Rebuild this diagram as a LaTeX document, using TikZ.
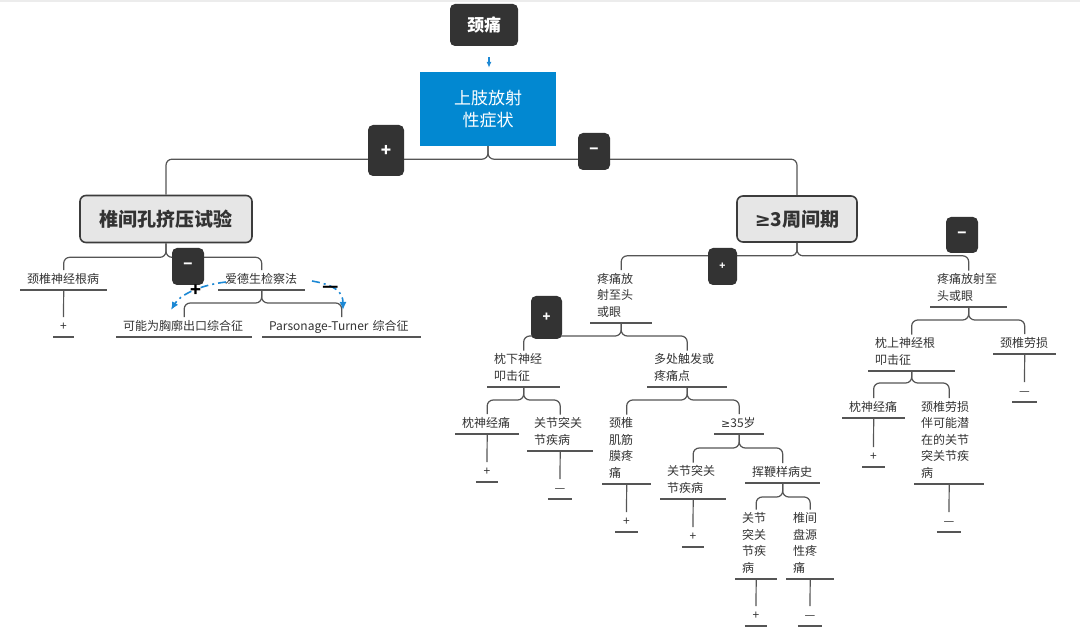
\documentclass[tikz,border=0pt]{standalone}
\usepackage{fontspec}
\setmainfont{Noto Sans CJK SC}
\newfontfamily\symfont{DejaVu Sans}
\usetikzlibrary{arrows.meta}
\definecolor{dk}{HTML}{333333}
\definecolor{bluebox}{HTML}{0288D1}
\definecolor{grayfill}{HTML}{E6E6E6}
\definecolor{grayborder}{HTML}{3C3C3C}
\definecolor{lc}{HTML}{555555}
\definecolor{txt}{HTML}{333333}
\definecolor{arrblue}{HTML}{1C88D4}
\definecolor{topbar}{HTML}{ECECEC}
\begin{document}
\begin{tikzpicture}[x=1pt,y=-1pt,
  conn/.style={draw=lc, line width=1.2pt, rounded corners=6pt},
  uline/.style={draw=lc, line width=1.2pt},
  lbl/.style={anchor=south west, text width=#1, align=left, inner xsep=7pt, inner ysep=1.5pt,
    font=\fontsize{12}{16.5}\selectfont, text=txt,
    execute at begin node=\strut, execute at end node=\strut},
  leaf/.style={anchor=south, minimum width=#1, inner xsep=0pt, inner ysep=1.5pt,
    font=\fontsize{12}{16.5}\selectfont, text=txt, execute at begin node=\strut},
  badge/.style={fill=dk, rounded corners=5pt, text=white, inner sep=0pt, font=\bfseries},
  graybox/.style={fill=grayfill, draw=grayborder, line width=1.6pt, rounded corners=6pt,
    text=txt, font=\fontsize{19}{22}\selectfont\bfseries, inner sep=0pt},
  bluedash/.style={draw=arrblue, line width=1.6pt, dash pattern=on 8pt off 4pt on 2pt off 4pt,
    -{Latex[length=8pt,width=7pt]}},
  marktxt/.style={text=black, font=\fontsize{18}{20}\selectfont\bfseries, inner sep=0pt}
]
\useasboundingbox (0,0) rectangle (1080,628);
\fill[topbar] (0,0) rectangle (1080,2.5);

% top nodes
\node[fill=dk, rounded corners=5pt, text=white, minimum width=68pt, minimum height=42pt, inner sep=0pt,
  font=\fontsize{17}{20}\selectfont\bfseries] (jt) at (484,25) {颈痛};
\node[fill=bluebox, text=white, minimum width=136pt, minimum height=74pt, inner sep=0pt, align=center,
  font=\fontsize{17}{22}\selectfont] (sx) at (488,109) {上肢放射\\性症状};
\node[graybox, minimum width=172pt, minimum height=47pt] (zj) at (166,219) {椎间孔挤压试验};
\node[graybox, minimum width=120pt, minimum height=46pt] (zq) at (797,219) {{\symfont ≥}3周间期};

% left labels
\node[lbl=73pt] (l1) at (20,290) {颈椎神经根病};
\node[lbl=73pt] (l2) at (218,290) {爱德生检察法};
\node[lbl=122pt] (l3) at (116,337) {可能为胸廓出口综合征};
\node[lbl=145pt] (l4) at (262,337) {\mbox{Parsonage-Turner} 综合征};

% right labels
\node[lbl=48pt] (r1) at (590,323) {疼痛放\\射至头\\或眼};
\node[lbl=63pt] (r2) at (930,307) {疼痛放射至\\头或眼};
\node[lbl=59pt] (r11) at (487,387) {枕下神经\\叩击征};
\node[lbl=66pt] (r12) at (647,387) {多处触发或\\疼痛点};
\node[lbl=50pt] (r111) at (455,434) {枕神经痛};
\node[lbl=52pt] (r112) at (527,451) {关节突关\\节疾病};
\node[lbl=35pt] (r121) at (602,484) {颈椎\\肌筋\\膜疼\\痛};
\node[lbl=36pt] (r122) at (714,434) {{\symfont\fontsize{11}{16.5}\selectfont ≥}35岁};
\node[lbl=52pt] (r1221) at (660,499) {关节突关\\节疾病};
\node[lbl=61pt] (r1222) at (745,483) {挥鞭样病史};
\node[lbl=28pt] (r12221) at (735,579) {关节\\突关\\节疾\\病};
\node[lbl=34pt] (r12222) at (786,579) {椎间\\盘源\\性疼\\痛};
\node[lbl=73pt] (r21) at (868,371) {枕上神经根\\叩击征};
\node[lbl=49pt] (r22) at (993,354) {颈椎劳损};
\node[lbl=49pt] (r211) at (842,418) {枕神经痛};
\node[lbl=56pt] (r212) at (914,484) {颈椎劳损\\伴可能潜\\在的关节\\突关节疾\\病};

% leaves
\node[leaf=20pt] (lf1) at (63.5,337) {+};
\node[leaf=22pt] (lf2) at (487,482) {+};
\node[leaf=24pt] (lf3) at (560,499) {—};
\node[leaf=22pt] (lf4) at (626.5,532) {+};
\node[leaf=22pt] (lf5) at (693,547) {+};
\node[leaf=22pt] (lf6) at (756,626) {+};
\node[leaf=24pt] (lf7) at (810,626) {—};
\node[leaf=24pt] (lf8) at (1024.5,402) {—};
\node[leaf=22pt] (lf9) at (873.5,467) {+};
\node[leaf=24pt] (lf10) at (949,532) {—};

% underlines
\foreach \n in {l1,l2,l3,l4,r1,r2,r11,r12,r111,r112,r121,r122,r1221,r1222,r12221,r12222,r21,r22,r211,r212,
  lf1,lf2,lf3,lf4,lf5,lf6,lf7,lf8,lf9,lf10}
  \draw[uline] (\n.south west) -- (\n.south east);

% tree connectors
\draw[conn] (sx.south) -- ++(0,13) -| (zj.north);
\draw[conn] (sx.south) -- ++(0,13) -| (zq.north);
\draw[conn] (zj.south) -- ++(0,14) -| (l1.north);
\draw[conn] (zj.south) -- ++(0,14) -| (l2.north);
\draw[conn] (l2.south) -- ++(0,13) -| (l3.north);
\draw[conn] (l2.south) -- ++(0,13) -| (l4.north);
\draw[conn] (zq.south) -- ++(0,13) -| (r1.north);
\draw[conn] (zq.south) -- ++(0,13) -| (r2.north);
\draw[conn] (r1.south) -- ++(0,13) -| (r11.north);
\draw[conn] (r1.south) -- ++(0,13) -| (r12.north);
\draw[conn] (r11.south) -- ++(0,13) -| (r111.north);
\draw[conn] (r11.south) -- ++(0,13) -| (r112.north);
\draw[conn] (r12.south) -- ++(0,13) -| (r121.north);
\draw[conn] (r12.south) -- ++(0,13) -| (r122.north);
\draw[conn] (r122.south) -- ++(0,14) -| (r1221.north);
\draw[conn] (r122.south) -- ++(0,14) -| (r1222.north);
\draw[conn] (r1222.south) -- ++(0,14) -| (r12221.north);
\draw[conn] (r1222.south) -- ++(0,14) -| (r12222.north);
\draw[conn] (r2.south) -- ++(0,13) -| (r21.north);
\draw[conn] (r2.south) -- ++(0,13) -| (r22.north);
\draw[conn] (r21.south) -- ++(0,12) -| (r211.north);
\draw[conn] (r21.south) -- ++(0,12) -| (r212.north);

% leaf connectors
\draw[conn] (l1.south) -- (lf1.north);
\draw[conn] (r111.south) -- (lf2.north);
\draw[conn] (r112.south) -- (lf3.north);
\draw[conn] (r121.south) -- (lf4.north);
\draw[conn] (r1221.south) -- (lf5.north);
\draw[conn] (r12221.south) -- (lf6.north);
\draw[conn] (r12222.south) -- (lf7.north);
\draw[conn] (r22.south) -- (lf8.north);
\draw[conn] (r211.south) -- (lf9.north);
\draw[conn] (r212.south) -- (lf10.north);

% badges
\node[badge, minimum width=36pt, minimum height=51pt, font=\fontsize{17}{18}\selectfont\bfseries] (b1) at (386,150.5) {+};
\node[badge, minimum width=32pt, minimum height=37pt, font=\fontsize{15}{18}\selectfont\bfseries] (b2) at (594,151.5) {−};
\node[badge, minimum width=32pt, minimum height=37pt, font=\fontsize{15}{18}\selectfont\bfseries] (b3) at (188,266.5) {−};
\node[badge, minimum width=29pt, minimum height=37pt, font=\fontsize{10}{12}\selectfont\bfseries] (b4) at (722.5,266.5) {+};
\node[badge, minimum width=32pt, minimum height=36pt, font=\fontsize{15}{18}\selectfont\bfseries] (b5) at (962,235) {−};
\node[badge, minimum width=31pt, minimum height=43pt, font=\fontsize{13}{15}\selectfont\bfseries] (b6) at (546.5,317.5) {+};

% blue relation arrows
\coordinate (ea) at (226,282);
\coordinate (eb) at (312,281);
\coordinate (ta) at (171,310);
\coordinate (tb) at (343,310);
\draw[bluedash] (ea) .. controls (200,285) and (180,295) .. (ta);
\draw[bluedash] (eb) .. controls (335,285) and (343,292) .. (tb);
\node[marktxt] (mp) at (196,291) {+};
\node[marktxt] (mm) at (331,289) {—};

% small arrow under root
\draw[draw=arrblue, line width=1.6pt, -{Latex[length=6pt,width=5pt]}] ([xshift=5pt,yshift=-11pt]jt.south) -- ([xshift=1pt,yshift=4pt]sx.north);
\end{tikzpicture}
\end{document}
